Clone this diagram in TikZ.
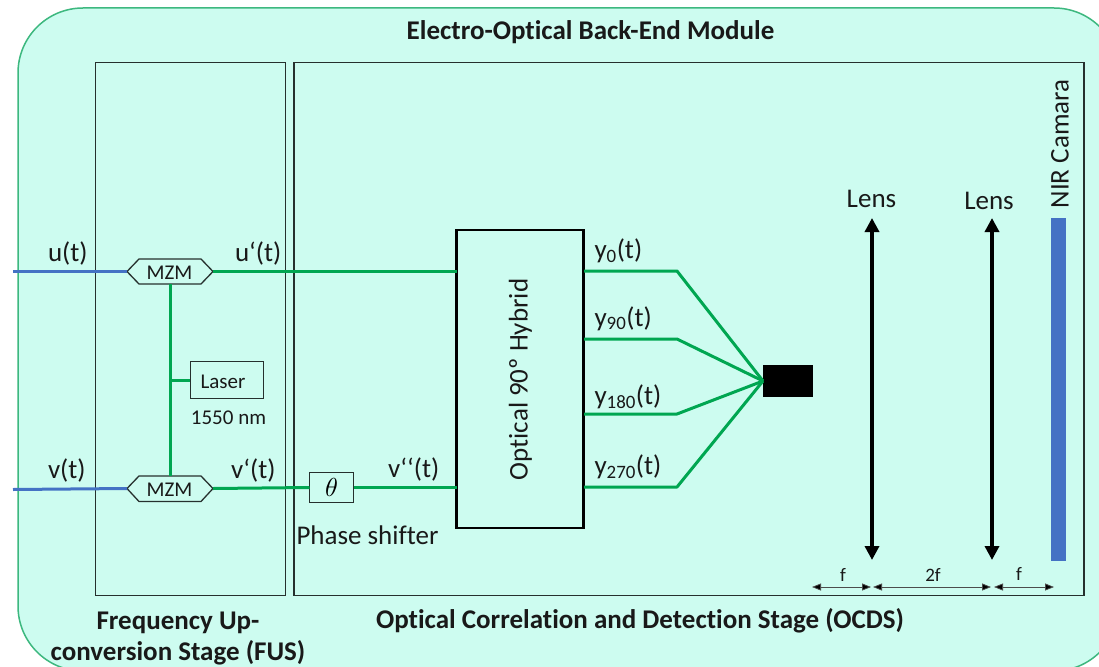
\documentclass[tikz,border=0pt]{standalone}
\usepackage{fontspec}
\setmainfont{Carlito}[Ligatures=NoCommon]
\usetikzlibrary{arrows.meta,shapes.misc}
\definecolor{bgc}{HTML}{CDFCF0}
\definecolor{grn}{HTML}{00A651}
\definecolor{edgec}{HTML}{3DB87F}
\definecolor{blu}{HTML}{4472C4}
\definecolor{frame}{HTML}{26302E}
\tikzset{
  x=1pt,y=-1pt,
  every node/.style={outer sep=0pt},
  stage/.style={draw=frame,line width=1.3pt,fill=none},
  fibre/.style={draw=grn,line width=3pt,line cap=butt,line join=miter},
  elec/.style={draw=blu,line width=3pt},
  lbl/.style={inner sep=0pt,font=\fontsize{27}{29}\selectfont,text=black!90},
  head/.style={inner sep=0pt,font=\bfseries\fontsize{27}{30}\selectfont,text=black!90,align=center},
  small/.style={inner sep=0pt,font=\fontsize{21}{23}\selectfont,text=black!90},
  tiny/.style={inner sep=0pt,font=\fontsize{19}{21}\selectfont,text=black!90},
  lens/.style={draw=black,line width=3.4pt,{Triangle[width=14pt,length=14pt]}-{Triangle[width=14pt,length=14pt]}},
  dim/.style={draw=black!70,line width=0.8pt,{Triangle[width=7pt,length=9pt,fill=black]}-{Triangle[width=7pt,length=9pt,fill=black]}},
}
\begin{document}
\begin{tikzpicture}
\useasboundingbox (0,0) rectangle (1099,666);
\clip (0,0) rectangle (1099,666);
\fill[white] (0,0) rectangle (1099,666);
\draw[draw=edgec,line width=1.5pt,fill=bgc,rounded corners=65pt] (18,8) rectangle (1119,671);

\node[stage,minimum width=190pt,minimum height=533pt,anchor=north west,inner sep=0pt] (fus) at (95.5,62.5) {};
\node[stage,minimum width=790pt,minimum height=533pt,anchor=north west,inner sep=0pt] (ocds) at (294,62.5) {};

\node[head] (title) at (590.5,32.5) {Electro-Optical Back-End Module};
\node[head] (fuslbl) at (178,638.5) {\begin{tabular}{@{}c@{}}Frequency Up-\\[1pt]conversion Stage (FUS)\end{tabular}};
\node[head] (ocdslbl) at (640,621) {Optical Correlation and Detection Stage (OCDS)};

% MZM hexagons
\coordinate (mul) at (127,271.5);
\coordinate (mur) at (213,271.5);
\coordinate (mub) at (170,284);
\coordinate (mvl) at (127,488.5);
\coordinate (mvr) at (213,488.5);
\coordinate (mvt) at (170,476);
\coordinate (uin) at (13,271.5);
\coordinate (vin) at (13,489.5);
\draw[draw=frame,line width=1.3pt] (mul) -- (139,259) -- (201,259) -- (mur) -- (201,284) -- (139,284) -- cycle;
\draw[draw=frame,line width=1.3pt] (mvl) -- (139,476) -- (201,476) -- (mvr) -- (201,501.5) -- (139,501.5) -- cycle;
\node[small] (mzmu) at (169.5,273) {MZM};
\node[small] (mzmv) at (169.5,490) {MZM};

\draw[elec] (uin) -- (mul);
\draw[elec] (vin) -- (mvl);

% Laser
\node[draw=frame,line width=1pt,minimum width=73pt,minimum height=37pt,inner sep=0pt,anchor=north west] (laser) at (190,361.5) {};
\node[small] (laserlbl) at (223,381.5) {Laser};
\node[small] (nm) at (228.5,417.5) {1550 nm};
\draw[fibre] (mub) -- (mvt);
\coordinate (lj) at (170,380.5);
\draw[fibre] (lj) -- (laser.west |- lj);

% Hybrid
\node[draw=black,line width=2.6pt,minimum width=127pt,minimum height=298pt,inner sep=0pt,anchor=north west] (hyb) at (456.5,230) {};
\node[inner sep=0pt,rotate=90,font=\fontsize{27}{29}\selectfont,text=black!90] (hyblbl) at (520.5,379.5) {Optical 90º Hybrid};

\coordinate (hu) at (456.5,271.5);
\coordinate (hv) at (456.5,487.5);
\draw[fibre] (mur) -- (hu);
\node[draw=frame,line width=1.2pt,minimum width=44pt,minimum height=30pt,inner sep=0pt] (phase) at (331.5,487.5) {\scalebox{2.6}{$\theta$}};
\draw[fibre] (mvr) -- (phase.west);
\draw[fibre] (phase.east) -- (hv);

% outputs
\node[fill=black,minimum width=50pt,minimum height=32pt,inner sep=0pt,anchor=west] (det) at (762.5,381) {};
\coordinate (dj) at (763,381);
\foreach \n/\y in {a/271,b/339,c/414,d/487}{
  \coordinate (s\n) at (584,\y);
  \coordinate (k\n) at (677,\y);
  \draw[fibre,line join=round] (s\n) -- (k\n) -- (dj);
}

% labels
\node[lbl,anchor=west] (ut) at (48,253) {u(t)};
\node[lbl,anchor=west] (upt) at (235,253) {u‘(t)};
\node[lbl,anchor=west] (vt) at (48,470) {v(t)};
\node[lbl,anchor=west] (vpt) at (231,470) {v‘(t)};
\node[lbl,anchor=west] (vppt) at (388,469) {v‘‘(t)};
\node[lbl,anchor=west] (psh) at (296.5,535.5) {Phase shifter};
\node[lbl,anchor=west] (y0) at (594.5,251) {y\textsubscript{0}(t)};
\node[lbl,anchor=west] (y90) at (594.5,318.5) {y\textsubscript{90}(t)};
\node[lbl,anchor=west] (y180) at (594.5,397) {y\textsubscript{180}(t)};
\node[lbl,anchor=west] (y270) at (594.5,467) {y\textsubscript{270}(t)};

% lenses
\coordinate (l1t) at (872,218);
\coordinate (l1b) at (872,560);
\coordinate (l2t) at (992,218);
\coordinate (l2b) at (992,560);
\draw[lens] (l1t) -- (l1b);
\draw[lens] (l2t) -- (l2b);
\node[lbl] (lens1) at (871.5,198.5) {Lens};
\node[lbl] (lens2) at (989,200.5) {Lens};
\node[fill=blu,minimum width=15pt,minimum height=343pt,inner sep=0pt,anchor=north] (cam) at (1058,217.5) {};
\node[lbl,rotate=90] (camlbl) at (1060,144) {NIR Camara};

% dimensions
\coordinate (d0) at (812,587);
\coordinate (d1) at (871,587);
\coordinate (d1b) at (873,587);
\coordinate (d2) at (991,587);
\coordinate (d2b) at (994,587);
\coordinate (d3) at (1054,587);
\draw[dim] (d0) -- (d1);
\draw[dim] (d1b) -- (d2);
\draw[dim] (d2b) -- (d3);
\node[tiny] (f1) at (843,575) {f};
\node[tiny] (f2) at (933,575) {2f};
\node[tiny] (f3) at (1019,574) {f};
\end{tikzpicture}
\end{document}
